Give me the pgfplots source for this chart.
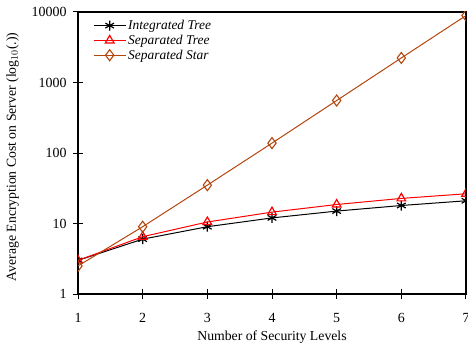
\documentclass[border=0pt]{standalone}
\usepackage{pgfplots}
\pgfplotsset{compat=1.18}
\usepackage{fontspec}
\setmainfont{Liberation Serif}
\definecolor{starc}{RGB}{180,68,12}
\begin{document}
\begin{tikzpicture}
\useasboundingbox (0,0) rectangle (468bp,346bp);
\begin{axis}[
  at={(78bp,52bp)}, anchor=south west,
  scale only axis,
  width=388bp, height=282bp,
  xmin=1, xmax=7,
  ymode=log, ymin=1, ymax=10000,
  log basis y=10,
  xtick={1,2,3,4,5,6,7},
  ytick={1,10,100,1000,10000},
  yticklabels={1,10,100,1000,10000},
  yminorticks=false,
  tick pos=left,
  tick align=center,
  major tick length=10bp,
  clip marker paths=true,
  axis line style={line width=1.5pt},
  every tick/.style={black, line width=1pt},
  /pgf/number format/assume math mode=true,
  ticklabel style={font=\fontsize{14}{16}\selectfont},
  xticklabel style={yshift=-11bp},
  yticklabel style={xshift=-3bp},
  xlabel={Number of Security Levels},
  ylabel={Average Encryption Cost on Server (log$_{10}$(.))},
  label style={font=\fontsize{13.8}{15}\selectfont},
  xlabel style={yshift=-1bp},
  ylabel style={yshift=6bp, xshift=-4bp},
  legend style={draw=none, fill=none, at={(0,1)}, anchor=north west,
    xshift=12bp, yshift=-4bp,
    font=\itshape\fontsize{13.5}{14}\selectfont, row sep=0bp,
    legend cell align=left},
  legend image code/.code={\draw[mark repeat=2,mark phase=2] plot coordinates {(0bp,0bp) (16bp,0bp) (32bp,0bp)};},
]
\addplot[black, line width=1pt, mark=asterisk, mark size=5bp, mark options={line width=1.2pt}]
  coordinates {(1,3) (2,6) (3,9) (4,12) (5,15) (6,18) (7,21)};
\addlegendentry{Integrated Tree}
\addplot[red, line width=1pt, mark=triangle, mark size=5bp, mark options={line width=1.2pt}]
  coordinates {(1,3) (2,6.5) (3,10.5) (4,14.5) (5,18.6) (6,22.7) (7,26.4)};
\addlegendentry{Separated Tree}
\addplot[starc, line width=1pt, mark=diamond, mark size=5.5bp, mark options={line width=1.1pt}]
  coordinates {(1,2.5) (2,9) (3,35) (4,138) (5,555) (6,2230) (7,8900)};
\addlegendentry{Separated Star}
\end{axis}
\end{tikzpicture}
\end{document}
